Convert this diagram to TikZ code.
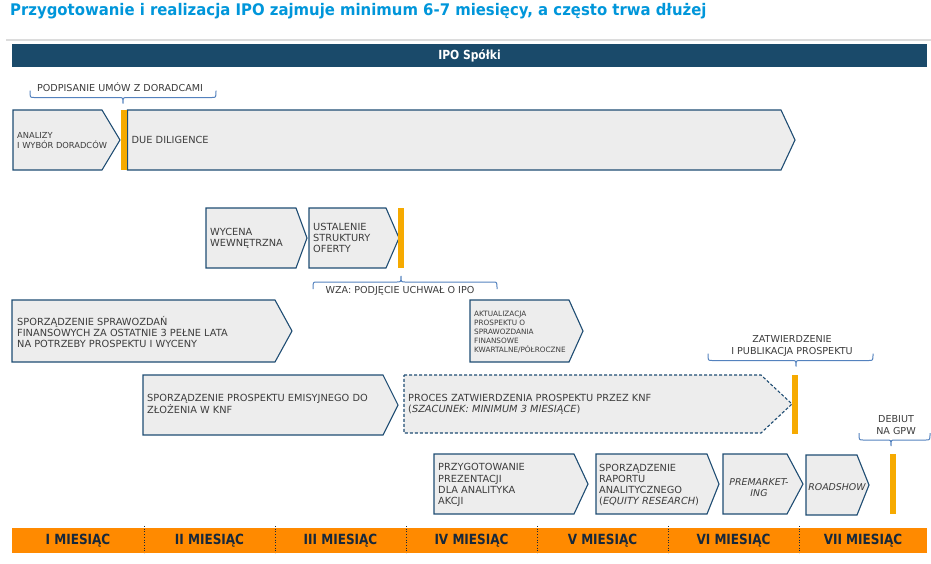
\documentclass[tikz,border=0pt]{standalone}
\usepackage{fontspec}
\setmainfont{DejaVu Sans}
\newfontfamily\condf[FakeStretch=0.86]{DejaVu Sans}
\newfontfamily\titlef[FakeStretch=0.93]{DejaVu Sans}
\definecolor{titleblue}{RGB}{0,150,218}
\definecolor{hdrblue}{RGB}{26,74,106}
\definecolor{boxfill}{RGB}{237,237,237}
\definecolor{boxline}{RGB}{31,77,115}
\definecolor{barorange}{RGB}{246,170,0}
\definecolor{monthorange}{RGB}{255,138,0}
\definecolor{monthtxt}{RGB}{22,40,60}
\definecolor{brkblue}{RGB}{84,130,190}
\definecolor{txtgray}{RGB}{60,60,60}
\definecolor{rulegray}{RGB}{220,220,220}
\newcommand\mybr[5]{\draw[brk] (#1,{#4-(#5)*7}) .. controls (#1,#4) .. ({#1+4},#4) -- ({#3-4},#4) .. controls (#3,#4) .. (#3,{#4+(#5)*6}) .. controls (#3,#4) .. ({#3+4},#4) -- ({#2-4},#4) .. controls (#2,#4) .. (#2,{#4-(#5)*7});}
\newcommand\chev[6][]{\draw[box,#1] (#2,#5) -- (#3,#5) -- (#4,{(#5+#6)/2}) -- (#3,#6) -- (#2,#6) -- cycle;}
\begin{document}
\begin{tikzpicture}[x=1pt,y=-1pt,
  box/.style={draw=boxline,fill=boxfill,line width=1.1pt,line join=miter},
  dbox/.style={box,dash pattern=on 3pt off 2pt},
  barstyle/.style={fill=barorange,draw=none},
  brk/.style={draw=brkblue,line width=1pt},
  txt/.style={anchor=west,align=left,text=txtgray,inner sep=0pt,font=\fontsize{9.8}{11.3}\selectfont},
  smalltxt/.style={txt,font=\fontsize{8.3}{10}\selectfont},
  tinytxt/.style={txt,font=\fontsize{7.3}{9}\selectfont},
  ctxt/.style={txt,anchor=center,align=center},
  lbl/.style={align=center,text=txtgray,inner sep=0pt,font=\fontsize{9.6}{11.3}\selectfont},
  month/.style={text=monthtxt,inner sep=0pt,font=\condf\bfseries\fontsize{14}{14}\selectfont}]
\useasboundingbox (0,0) rectangle (931,563);
% title
\node[anchor=base west,inner sep=0pt,text=titleblue,font=\titlef\bfseries\fontsize{16}{16}\selectfont] (title) at (10,15.5) {Przygotowanie i realizacja IPO zajmuje minimum 6-7 miesięcy, a często trwa dłużej};
\draw[rulegray,line width=2pt] (6,39.5) -- (931,39.5);
% header
\fill[hdrblue] (12,44) rectangle (927,67);
\node[text=white,inner sep=0pt,font=\condf\bfseries\fontsize{12.5}{12.5}\selectfont] (hdr) at (469.5,55.5) {IPO Spółki};
% row 1
\chev{13}{102}{120}{110}{170}
\node[smalltxt] (t1) at (17,141) {ANALIZY\\I WYBÓR DORADCÓW};
\chev{127.5}{781}{795}{110}{170}
\node[txt] (t2) at (131.5,140) {DUE DILIGENCE};
\fill[barstyle] (121,110) rectangle (127,170);
\mybr{30}{216}{123}{97.5}{1}
\node[lbl] (b1) at (120,87) {PODPISANIE UMÓW Z DORADCAMI};
% row 2
\chev{206}{296}{307}{208}{268}
\node[txt] (t3) at (210,238) {WYCENA\\WEWNĘTRZNA};
\chev{309}{386}{399}{208}{268}
\node[txt] (t4) at (313,238) {USTALENIE\\STRUKTURY\\OFERTY};
\fill[barstyle] (398,208) rectangle (404,268);
\mybr{313}{497}{401}{282}{-1}
\node[lbl] (b2) at (400,291) {WZA: PODJĘCIE UCHWAŁ O IPO};
% row 3
\chev{12}{275}{292}{300}{362}
\node[txt] (t5) at (17,332) {SPORZĄDZENIE SPRAWOZDAŃ\\FINANSOWYCH ZA OSTATNIE 3 PEŁNE LATA\\NA POTRZEBY PROSPEKTU I WYCENY};
\chev{470}{569}{583}{300}{362}
\node[tinytxt] (t6) at (474,332) {AKTUALIZACJA\\PROSPEKTU O\\SPRAWOZDANIA\\FINANSOWE\\KWARTALNE/PÓŁROCZNE};
\mybr{708}{873}{796}{360.5}{1}
\node[lbl] (b3) at (792,346) {ZATWIERDZENIE\\I PUBLIKACJA PROSPEKTU};
% row 4
\chev{143}{383}{398}{375}{435}
\node[txt] (t7) at (147,404) {SPORZĄDZENIE PROSPEKTU EMISYJNEGO DO\\ZŁOŻENIA W KNF};
\chev[dbox]{404}{761}{792}{375}{433}
\node[txt] (t8) at (408,404) {PROCES ZATWIERDZENIA PROSPEKTU PRZEZ KNF\\(\textit{SZACUNEK: MINIMUM 3 MIESIĄCE})};
\fill[barstyle] (792,375) rectangle (798,434);
\mybr{859}{930}{891}{440}{1}
\node[lbl] (b4) at (896,425) {DEBIUT\\NA GPW};
% row 5
\chev{434}{574}{588}{454}{514}
\node[txt] (t9) at (438,485) {PRZYGOTOWANIE\\PREZENTACJI\\DLA ANALITYKA\\AKCJI};
\chev{596}{707}{719}{454}{514}
\node[txt] (t10) at (599,485) {SPORZĄDZENIE\\RAPORTU\\ANALITYCZNEGO\\(\textit{EQUITY RESEARCH})};
\chev{723}{787}{803}{454}{514}
\node[ctxt,font=\itshape\fontsize{9.4}{11.2}\selectfont] (t11) at (759,488) {PREMARKET-\\ING};
\chev{806}{857}{869}{455}{515}
\node[ctxt,font=\itshape\fontsize{9.4}{11.2}\selectfont] (t12) at (837,487) {ROADSHOW};
\fill[barstyle] (890,454) rectangle (896,514);
% months
\fill[monthorange] (12,528) rectangle (927,553);
\foreach \xx in {144,275,406,537,668,799} \draw[monthtxt,dotted,line width=0.7pt] (\xx,526) -- (\xx,553);
\node[month] (m1) at (78,541) {I MIESIĄC};
\node[month] (m2) at (209.5,541) {II MIESIĄC};
\node[month] (m3) at (340.5,541) {III MIESIĄC};
\node[month] (m4) at (471.5,541) {IV MIESIĄC};
\node[month] (m5) at (602.5,541) {V MIESIĄC};
\node[month] (m6) at (733.5,541) {VI MIESIĄC};
\node[month] (m7) at (863,541) {VII MIESIĄC};
\end{tikzpicture}
\end{document}
